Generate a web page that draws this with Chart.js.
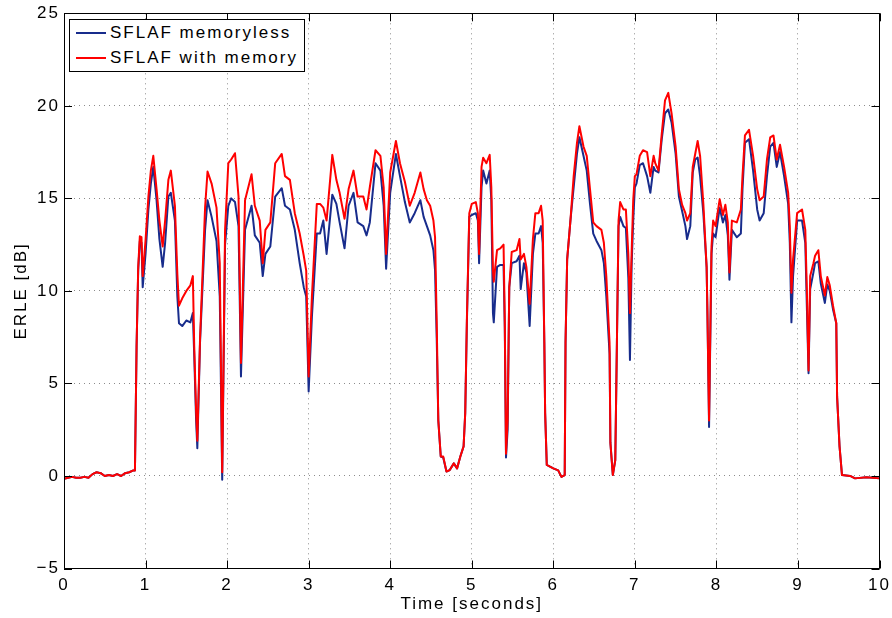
<!DOCTYPE html>
<html>
<head>
<meta charset="utf-8">
<script src="https://cdn.jsdelivr.net/npm/chart.js@4/dist/chart.umd.min.js"></script>
<style>
html,body{margin:0;padding:0;background:#fff;}
#wrap{position:relative;width:892px;height:618px;}
canvas{display:block;}
.lg{position:absolute;}
#lgbox{left:69px;top:19px;width:236px;height:53px;box-sizing:border-box;border:1px solid #000;background:#fff;}
.lgline{height:2px;width:30px;left:76px;}
.lgtext{left:110px;font:17px "Liberation Sans",Arial,Helvetica,sans-serif;letter-spacing:2px;line-height:20px;color:#000;white-space:nowrap;}
</style>
</head>
<body>
<div id="wrap">
<canvas id="c" width="892" height="618"></canvas>
<div id="lgbox" class="lg"></div>
<div class="lg lgline" style="top:32px;background:#182c8c;"></div>
<div class="lg lgtext" style="top:23px;">SFLAF memoryless</div>
<div class="lg lgline" style="top:57px;background:#ff0000;"></div>
<div class="lg lgtext" style="top:48px;">SFLAF with memory</div>
</div>
<script>
// Time axis (seconds)
const times = [
  0,0.05,0.1,0.15,0.2,0.25,0.3,0.35,0.4,0.45,
  0.5,0.55,0.6,0.65,0.7,0.75,0.8,0.85,0.87,0.89,
  0.91,0.93,0.95,0.965,1.0,1.035,1.065,1.095,1.135,1.17,
  1.21,1.24,1.28,1.31,1.36,1.39,1.41,1.45,1.5,1.55,
  1.58,1.597,1.62,1.635,1.668,1.73,1.76,1.81,1.87,1.91,
  1.94,1.975,2.015,2.05,2.097,2.14,2.155,2.17,2.22,2.3,
  2.34,2.4,2.437,2.47,2.53,2.59,2.67,2.71,2.77,2.83,
  2.89,2.94,2.97,3.0,3.04,3.1,3.14,3.18,3.22,3.29,
  3.34,3.38,3.44,3.49,3.55,3.6,3.67,3.71,3.75,3.82,
  3.88,3.92,3.95,4.0,4.07,4.12,4.18,4.24,4.3,4.37,
  4.41,4.45,4.49,4.53,4.55,4.57,4.59,4.62,4.65,4.69,
  4.73,4.78,4.82,4.86,4.9,4.92,4.94,4.97,5.0,5.05,
  5.075,5.09,5.12,5.14,5.18,5.22,5.24,5.26,5.27,5.31,
  5.35,5.39,5.405,5.42,5.44,5.46,5.49,5.55,5.585,5.6,
  5.64,5.67,5.71,5.75,5.78,5.82,5.85,5.87,5.89,5.9,
  5.92,5.96,6.0,6.06,6.1,6.14,6.15,6.17,6.21,6.25,
  6.29,6.32,6.37,6.41,6.45,6.49,6.53,6.59,6.62,6.65,
  6.69,6.7,6.73,6.76,6.78,6.8,6.82,6.86,6.89,6.92,
  6.94,6.96,6.98,7.0,7.02,7.06,7.1,7.15,7.19,7.23,
  7.25,7.29,7.33,7.37,7.41,7.45,7.5,7.54,7.58,7.62,
  7.64,7.68,7.71,7.74,7.77,7.8,7.84,7.88,7.89,7.91,
  7.94,7.96,7.99,8.04,8.08,8.11,8.14,8.16,8.19,8.25,
  8.3,8.32,8.35,8.4,8.45,8.5,8.53,8.58,8.62,8.66,
  8.7,8.74,8.78,8.83,8.88,8.9,8.92,8.94,8.99,9.05,
  9.09,9.11,9.13,9.15,9.19,9.21,9.25,9.28,9.33,9.36,
  9.39,9.43,9.47,9.48,9.51,9.54,9.64,9.7,9.84,10.0
];
// ERLE [dB], SFLAF memoryless
const memoryless = [
  -0.15,-0.1,-0.05,-0.1,-0.1,-0.05,-0.1,0.1,0.2,0.15,
  0.0,0.05,0.0,0.1,0.0,0.15,0.2,0.3,0.3,7.0,
  11.1,12.7,12.6,10.2,12.0,14.4,15.8,16.7,14.9,12.8,
  11.3,12.6,15.1,15.3,13.8,9.7,8.25,8.1,8.4,8.3,
  8.8,6.5,3.0,1.5,7.2,13.3,14.9,14.0,12.7,9.7,
  -0.2,12.5,14.6,15.0,14.8,13.5,9.5,5.37,13.3,14.6,
  13.0,12.6,10.8,12.0,12.4,15.1,15.55,14.6,14.4,13.3,
  11.5,10.2,9.7,4.56,8.6,13.1,13.1,13.8,12.0,15.2,
  14.7,13.7,12.3,14.6,15.3,13.7,13.5,13.0,13.7,16.9,
  16.5,14.6,11.2,15.3,17.4,16.2,14.8,13.7,14.2,14.9,
  14.0,13.5,13.0,12.2,11.1,7.5,3.0,1.05,1.0,0.24,
  0.32,0.68,0.41,1.05,1.6,3.4,8.2,14.0,14.1,14.2,
  13.8,11.5,15.6,16.5,15.8,16.5,14.9,8.8,8.3,11.3,
  11.4,11.4,8.0,1.0,2.5,10.2,11.5,11.6,11.9,10.1,
  11.5,11.0,8.1,12.0,13.1,13.1,13.5,12.6,7.2,3.4,
  0.6,0.5,0.41,0.3,-0.05,0.05,7.2,11.7,13.8,15.6,
  17.4,18.3,17.3,16.5,14.7,13.1,12.7,12.2,11.5,9.7,
  6.6,1.8,0.05,0.86,7.2,13.5,14.0,13.5,13.4,10.7,
  6.27,11.3,13.8,15.6,15.8,16.8,16.9,16.2,15.3,16.7,
  16.5,16.4,18.2,19.6,19.8,19.1,17.4,15.1,14.3,13.5,
  12.8,13.5,16.4,17.1,17.2,16.2,14.2,11.3,8.8,2.65,
  12.0,13.1,12.9,14.5,13.7,14.1,13.0,10.6,13.3,12.9,
  13.1,15.5,18.0,18.2,16.5,14.4,13.8,14.2,16.2,17.8,
  18.0,16.7,17.5,16.2,14.7,12.6,8.3,10.8,13.8,13.8,
  12.6,9.0,5.55,10.1,11.0,11.5,11.6,10.4,9.35,10.35,
  10.0,9.0,8.25,4.3,1.6,0.05,0.0,-0.13,-0.07,-0.13
];
// ERLE [dB], SFLAF with memory
const withMemory = [
  -0.15,-0.1,-0.05,-0.1,-0.1,-0.05,-0.1,0.1,0.2,0.15,
  0.0,0.05,0.0,0.1,0.0,0.15,0.2,0.3,0.3,7.0,
  11.3,12.95,12.9,10.8,12.75,15.1,16.5,17.3,15.5,13.8,
  12.4,13.8,16.0,16.5,14.6,10.9,9.2,9.6,10.0,10.3,
  10.8,7.0,3.5,1.9,7.4,14.5,16.45,15.8,14.5,11.5,
  0.2,13.3,16.9,17.1,17.44,15.1,10.6,6.1,14.9,16.3,
  14.6,13.8,11.5,13.3,13.7,16.9,17.4,16.2,16.0,14.2,
  13.1,11.9,11.1,5.37,9.7,14.7,14.7,14.5,13.8,17.35,
  16.0,15.3,13.9,15.5,16.5,15.1,15.1,14.4,15.6,17.6,
  17.3,15.6,12.0,16.4,18.1,16.9,15.9,14.6,15.3,16.4,
  15.5,14.9,14.6,13.8,12.9,8.4,3.0,1.05,1.05,0.24,
  0.32,0.68,0.41,1.05,1.6,3.4,8.4,14.2,14.7,14.8,
  14.2,12.0,16.7,17.2,16.9,17.35,15.6,11.1,10.5,12.2,
  12.3,12.5,8.4,1.2,3.0,10.2,12.1,12.2,12.8,11.7,
  12.0,11.3,9.3,12.8,14.2,14.2,14.6,13.8,7.2,3.4,
  0.6,0.5,0.41,0.3,-0.05,0.05,7.2,11.7,13.8,16.2,
  17.98,18.9,17.8,17.3,15.5,13.7,13.5,13.3,12.6,10.8,
  7.2,1.8,0.05,0.86,7.2,13.8,14.8,14.4,14.4,12.0,
  8.8,12.0,14.9,16.2,16.3,17.3,17.6,17.5,16.2,17.3,
  16.9,16.5,18.5,20.3,20.7,19.6,17.8,15.5,14.65,14.2,
  13.8,14.2,16.7,17.4,18.1,17.3,14.7,11.3,8.8,3.0,
  12.4,13.8,13.5,14.95,14.1,14.65,13.7,11.0,13.8,13.7,
  14.4,16.2,18.4,18.7,17.3,15.5,14.9,15.1,17.1,18.3,
  18.4,17.1,17.9,16.7,15.3,13.5,9.9,11.7,14.2,14.4,
  13.3,9.9,5.7,10.8,11.5,11.9,12.2,10.8,9.75,10.75,
  10.3,9.2,8.25,4.3,1.6,0.05,0.0,-0.13,-0.07,-0.13
];
const seriesNames = ['SFLAF memoryless', 'SFLAF with memory'];
const xLimits = [0, 10];
const yLimits = [-5, 25];
const xStep = 1;
const yStep = 5;

Chart.defaults.font.family = '"Liberation Sans", Arial, Helvetica, sans-serif';
Chart.defaults.font.size = 17;
Chart.defaults.color = '#000';

const toXY = (ys) => times.map((t, i) => ({x: t, y: ys[i]}));

const setSpacing = (chart) => { if ('letterSpacing' in chart.ctx) chart.ctx.letterSpacing = '2px'; };

const axisBox = {
  id: 'axisBox',
  beforeUpdate: setSpacing,
  beforeLayout: setSpacing,
  beforeDraw: setSpacing,
  afterDatasetsDraw(chart) {
    const {ctx, chartArea, scales} = chart;
    const {left, right, top, bottom} = chartArea;
    const L = 8;
    ctx.save();
    ctx.setLineDash([]);
    ctx.strokeStyle = '#000';
    ctx.lineWidth = 1;
    ctx.beginPath();
    scales.x.ticks.forEach(t => {
      const px = Math.round(scales.x.getPixelForValue(t.value)) + 0.5;
      ctx.moveTo(px, bottom); ctx.lineTo(px, bottom - L);
      ctx.moveTo(px, top); ctx.lineTo(px, top + L);
    });
    scales.y.ticks.forEach(t => {
      const py = Math.round(scales.y.getPixelForValue(t.value)) + 0.5;
      ctx.moveTo(left, py); ctx.lineTo(left + L, py);
      ctx.moveTo(right, py); ctx.lineTo(right - L, py);
    });
    ctx.rect(Math.round(left) + 0.5, Math.round(top) + 0.5, Math.round(right) - Math.round(left) - 1, Math.round(bottom) - Math.round(top) - 1);
    ctx.stroke();
    ctx.restore();
  }
};

const minusFmt = v => String(v).replace('-', '\u2212');

new Chart(document.getElementById('c'), {
  type: 'line',
  data: {
    datasets: [
      {label: seriesNames[0], data: toXY(memoryless), borderColor: '#182c8c', backgroundColor: '#182c8c', borderWidth: 2, pointRadius: 0, order: 1},
      {label: seriesNames[1], data: toXY(withMemory), borderColor: '#ff0000', backgroundColor: '#ff0000', borderWidth: 2, pointRadius: 0, order: 0}
    ]
  },
  options: {
    responsive: false,
    animation: false,
    layout: {padding: {top: 13.3, right: 12.5, left: 0, bottom: 0}},
    plugins: {legend: {display: false}, tooltip: {enabled: false}},
    elements: {line: {tension: 0, borderJoinStyle: 'round'}},
    scales: {
      x: {
        type: 'linear', min: xLimits[0], max: xLimits[1],
        ticks: {stepSize: xStep, padding: 7, maxRotation: 0, autoSkip: false, color: '#000', callback: minusFmt},
        grid: {color: 'rgba(0,0,0,0.45)', drawTicks: false, lineWidth: 1},
        border: {display: false, dash: [1, 4]},
        title: {display: true, text: 'Time [seconds]', color: '#000', padding: {top: 0, bottom: 3}},
        afterFit(s) { s.height = 49.5; s.paddingLeft = 0; s.paddingRight = 0; }
      },
      y: {
        type: 'linear', min: yLimits[0], max: yLimits[1],
        ticks: {stepSize: yStep, padding: 4, color: '#000', callback: minusFmt},
        grid: {color: 'rgba(0,0,0,0.45)', drawTicks: false, lineWidth: 1},
        border: {display: false, dash: [1, 4]},
        title: {display: true, text: 'ERLE [dB]', color: '#000', padding: {top: 11, bottom: 0}},
        afterFit(s) { s.width = 64; s.paddingTop = 0; s.paddingBottom = 0; }
      }
    }
  },
  plugins: [axisBox]
});
</script>
</body>
</html>
